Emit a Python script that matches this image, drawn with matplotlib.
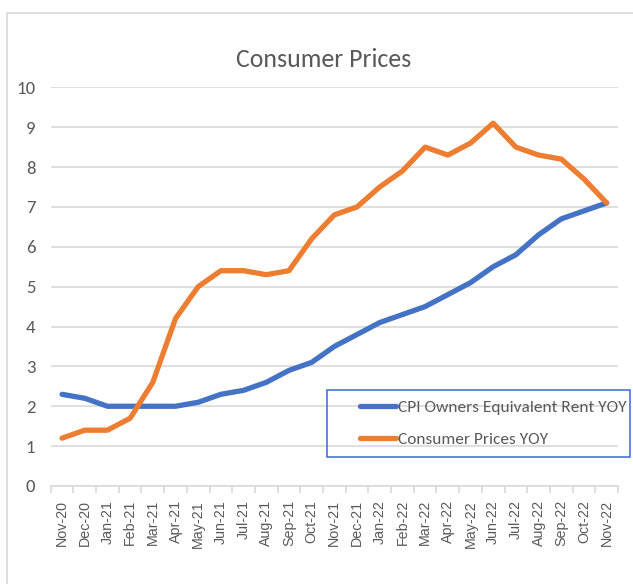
import matplotlib
matplotlib.use("Agg")
import matplotlib.pyplot as plt
from matplotlib.patches import Rectangle
import numpy as np

months = ["Nov-20", "Dec-20", "Jan-21", "Feb-21", "Mar-21", "Apr-21", "May-21",
          "Jun-21", "Jul-21", "Aug-21", "Sep-21", "Oct-21", "Nov-21", "Dec-21",
          "Jan-22", "Feb-22", "Mar-22", "Apr-22", "May-22", "Jun-22", "Jul-22",
          "Aug-22", "Sep-22", "Oct-22", "Nov-22"]
oer_yoy = [2.3, 2.2, 2.0, 2.0, 2.0, 2.0, 2.1, 2.3, 2.4, 2.6, 2.9, 3.1, 3.5,
           3.8, 4.1, 4.3, 4.5, 4.8, 5.1, 5.5, 5.8, 6.3, 6.7, 6.9, 7.1]
cpi_yoy = [1.2, 1.4, 1.4, 1.7, 2.6, 4.2, 5.0, 5.4, 5.4, 5.3, 5.4, 6.2, 6.8,
           7.0, 7.5, 7.9, 8.5, 8.3, 8.6, 9.1, 8.5, 8.3, 8.2, 7.7, 7.1]
series_labels = ["CPI Owners Equivalent Rent YOY", "Consumer Prices YOY"]
title = "Consumer Prices"
yticks = list(range(0, 11))

W, H = 633, 584
CAL = ["Carlito", "DejaVu Sans"]
ARIAL = ["Liberation Sans", "DejaVu Sans"]
GREY = "#595959"
GRID = "#D9D9D9"
BLUE = "#4472C4"
ORANGE = "#ED7D31"

fig = plt.figure(figsize=(W / 100, H / 100), dpi=100)
left, right = 50.7 / W, 618 / W
bottom, top = 1 - 486 / H, 1 - 87.3 / H
ax = fig.add_axes([left, bottom, right - left, top - bottom])

x = np.arange(len(months))
l1, = ax.plot(x, oer_yoy, color=BLUE, lw=3.8, solid_capstyle="round",
              solid_joinstyle="round", zorder=3)
l2, = ax.plot(x, cpi_yoy, color=ORANGE, lw=3.8, solid_capstyle="round",
              solid_joinstyle="round", zorder=3)

ax.set_xlim(-0.5, len(months) - 0.5)
ax.set_ylim(0, 10)
ax.set_yticks(yticks)
ax.set_yticklabels([str(v) for v in yticks], fontfamily=CAL, fontsize=13.5,
                   color=GREY)
ax.tick_params(axis="y", length=0, pad=11)
ax.yaxis.grid(True, color=GRID, lw=1.2)
ax.set_axisbelow(True)

ax.set_xticks(x)
ax.set_xticklabels(months, rotation=90, fontfamily=ARIAL, fontsize=10.3,
                   color=GREY, va="top", ha="center")
ax.set_xticks(np.arange(-0.5, len(months)), minor=True)
ax.tick_params(axis="x", which="major", length=0, pad=10)
ax.tick_params(axis="x", which="minor", length=5, color=GRID, width=1.2)

for s in ["top", "right", "left"]:
    ax.spines[s].set_visible(False)
ax.spines["bottom"].set_color(GRID)
ax.spines["bottom"].set_linewidth(1.2)

fig.text(323.4 / W, 1 - 67 / H, title, ha="center", va="baseline",
         fontfamily=CAL, fontsize=18.5, color=GREY)

# outer chart border
fig.add_artist(Rectangle((7.5 / W, -0.05), 1.2, 1 - 13 / H + 0.05,
                         transform=fig.transFigure, fill=False,
                         edgecolor=GRID, lw=1.2))

# legend frame
fig.add_artist(Rectangle((327.3 / W, 1 - 457 / H), (630 - 327.3) / W, 67 / H,
                         transform=fig.transFigure, fill=False,
                         edgecolor="#3A6BC8", lw=1.1, zorder=5))
leg = fig.legend([l1, l2], series_labels, loc="center left",
                 bbox_to_anchor=(360 / W, 1 - 423.5 / H), frameon=False,
                 borderpad=0, borderaxespad=0, handlelength=2.1,
                 handletextpad=0.1, labelspacing=0.95,
                 prop={"family": CAL, "size": 12.5})
for t in leg.get_texts():
    t.set_color(GREY)

fig.savefig("out.png", dpi=100)
